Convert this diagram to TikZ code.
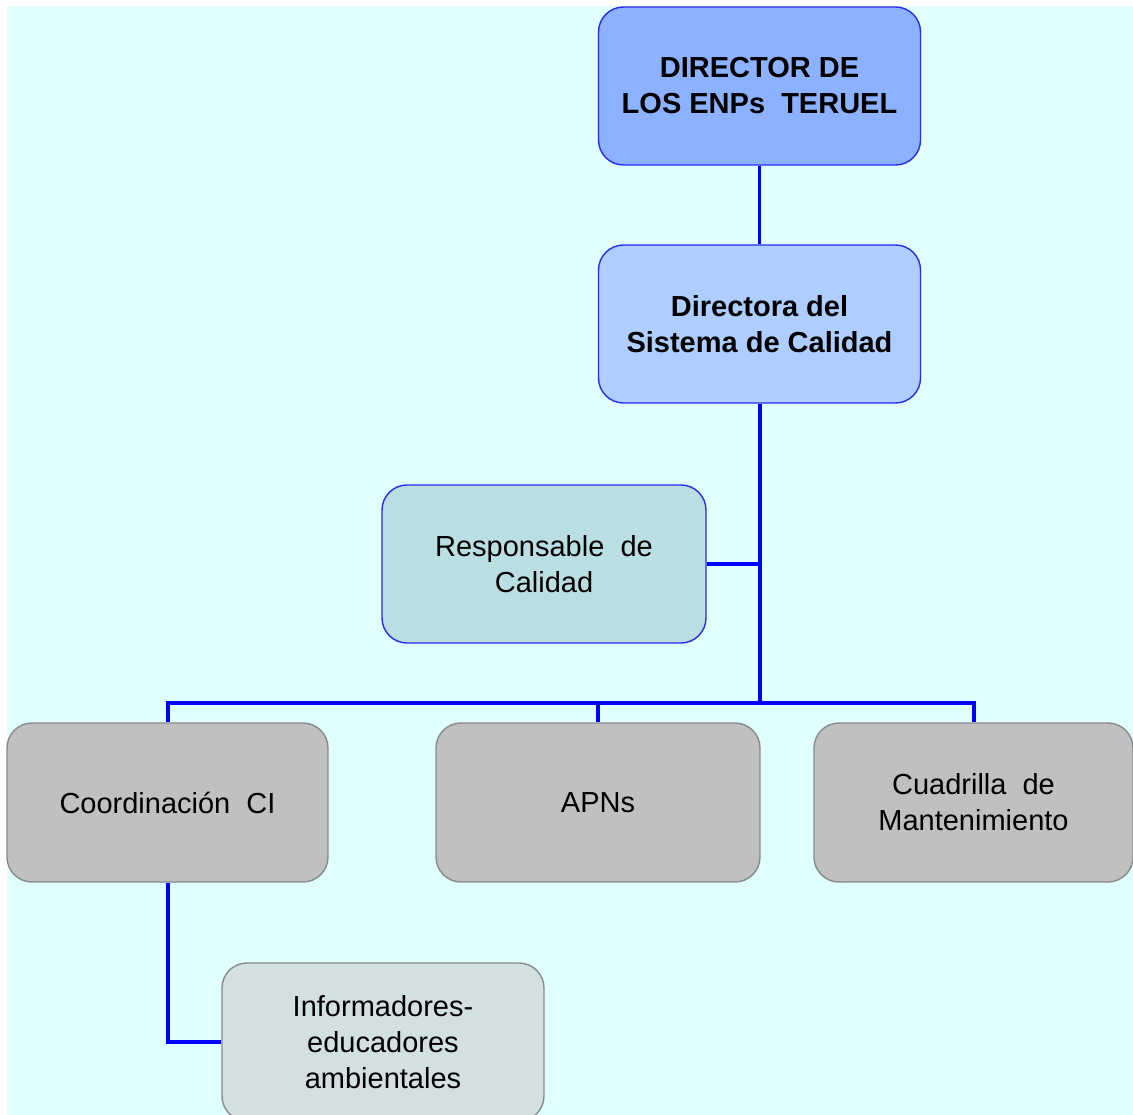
\documentclass[tikz,border=0pt]{standalone}
\usepackage{fontspec}
\setmainfont{Liberation Sans}
\definecolor{bgcyan}{HTML}{E0FFFF}
\definecolor{dirfill}{HTML}{8CB2FF}
\definecolor{dirsfill}{HTML}{ADCEFF}
\definecolor{respfill}{HTML}{BADFE2}
\definecolor{grayfill}{HTML}{C0C0C0}
\definecolor{infofill}{HTML}{D2E0E0}
\definecolor{blueedge}{HTML}{2A2AF5}
\definecolor{grayedge}{HTML}{8A8A8A}
\definecolor{connblue}{HTML}{0000FF}
\begin{document}
\begin{tikzpicture}[x=1pt,y=-1pt,
  box/.style={rectangle, rounded corners=25pt, align=center, line width=1.4pt,
    minimum width=322pt, minimum height=158pt, inner sep=0pt,
    font=\fontsize{29}{36}\selectfont},
  bluebox/.style={box, draw=blueedge},
  graybox/.style={box, draw=grayedge, fill=grayfill},
  conn/.style={draw=connblue, line width=4pt},
]
\useasboundingbox (0,0) rectangle (1133,1115);
\clip (0,0) rectangle (1133,1115);
\fill[white] (0,0) rectangle (1133,1115);
\fill[bgcyan] (7,6) rectangle (1133,1115);

\node[bluebox, fill=dirfill, font=\fontsize{29}{36}\selectfont\bfseries] (dir) at (759.5,86) {DIRECTOR DE\\LOS ENPs\ \ TERUEL};
\node[bluebox, fill=dirsfill, font=\fontsize{29}{36}\selectfont\bfseries] (dirs) at (759.5,324) {Directora del\\Sistema de Calidad};
\node[bluebox, fill=respfill, minimum width=324pt] (resp) at (544,564) {Responsable\ \ de\\Calidad};
\node[graybox, minimum width=321pt, minimum height=159pt] (coord) at (167.5,802.5) {Coordinación\ \ CI};
\node[graybox, minimum width=324pt, minimum height=159pt] (apns) at (598,802.5) {APNs};
\node[graybox, minimum width=319pt, minimum height=159pt] (cuad) at (973.5,802.5) {Cuadrilla\ \ de\\Mantenimiento};
\node[box, draw=grayedge, fill=infofill] (info) at (383,1042) {Informadores-\\educadores\\ambientales};

\coordinate (bus) at (759.5,703);
\draw[conn, line width=3pt] (dir.south) -- (dirs.north);
\draw[conn] (dirs.south) -- (bus);
\draw[conn] (resp.east) -- (resp.east -| bus);
\draw[conn] (coord.north) |- (bus);
\draw[conn] (apns.north) |- (bus);
\draw[conn] (cuad.north) |- (bus);
\draw[conn] (coord.south) |- (info.west);
\end{tikzpicture}
\end{document}
